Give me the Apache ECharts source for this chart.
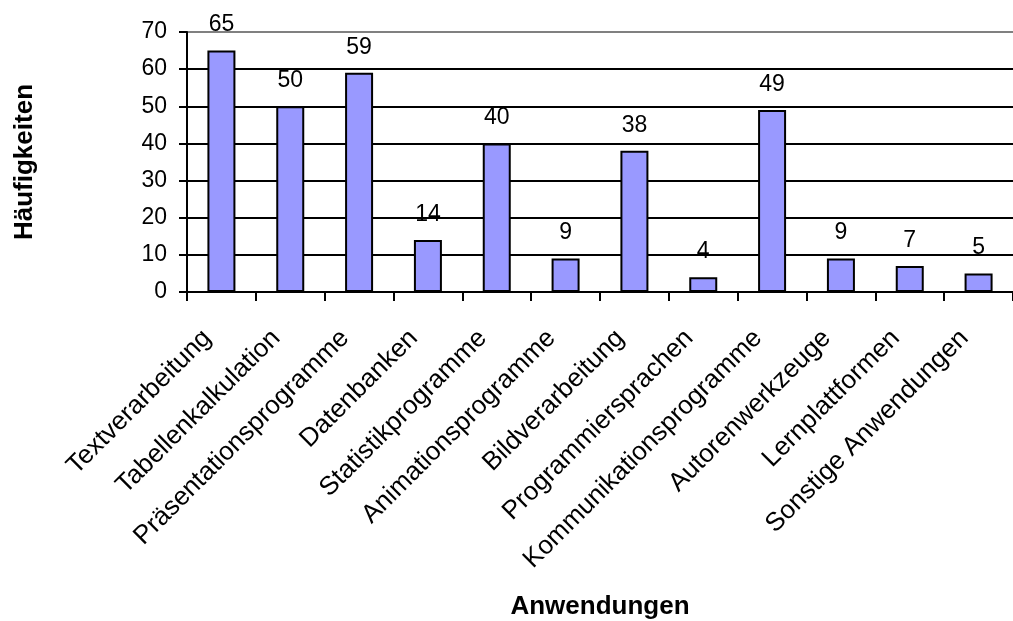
<!DOCTYPE html>
<html>
<head>
<meta charset="utf-8">
<script src="https://cdn.jsdelivr.net/npm/echarts@6/dist/echarts.min.js"></script>
<style>
  html, body { margin: 0; padding: 0; background: #fff; }
  #chart { width: 1013px; height: 621px; }
</style>
</head>
<body>
<div id="chart"></div>
<script>
// Usage frequency per application type
const categories = [
  'Textverarbeitung', 'Tabellenkalkulation', 'Präsentationsprogramme', 'Datenbanken',
  'Statistikprogramme', 'Animationsprogramme', 'Bildverarbeitung', 'Programmiersprachen',
  'Kommunikationsprogramme', 'Autorenwerkzeuge', 'Lernplattformen', 'Sonstige Anwendungen'
];
const counts = [65, 50, 59, 14, 40, 9, 38, 4, 49, 9, 7, 5];
const yTicks = [0, 10, 20, 30, 40, 50, 60, 70];

const FONT = '"Liberation Sans", Arial, Helvetica, sans-serif';

const chart = echarts.init(document.getElementById('chart'), null, { renderer: 'canvas' });

// top line of the value range is the grey plot frame, the others are black gridlines
const gridColors = yTicks.map((v, i) => (i === yTicks.length - 1 ? '#808080' : '#000000'));

chart.setOption({
  animation: false,
  backgroundColor: '#ffffff',
  grid: { left: 187, top: 32, width: 833, bottom: 327, containLabel: false },
  xAxis: {
    type: 'category',
    data: categories,
    boundaryGap: true,
    name: 'Anwendungen',
    nameLocation: 'middle',
    nameGap: 302,
    nameTextStyle: { fontFamily: FONT, fontSize: 26, fontWeight: 'bold', color: '#000' },
    axisLine: { show: true, lineStyle: { color: '#000', width: 2 } },
    axisTick: { show: true, length: 9, alignWithLabel: false, lineStyle: { color: '#000', width: 2 } },
    axisLabel: {
      interval: 0,
      rotate: 45,
      margin: 28,
      padding: [0, 20, 0, 0],
      fontFamily: FONT,
      fontSize: 26,
      color: '#000'
    },
    splitLine: { show: false }
  },
  yAxis: {
    type: 'value',
    min: 0,
    max: 70,
    interval: 10,
    name: 'Häufigkeiten',
    nameLocation: 'middle',
    nameGap: 149,
    nameRotate: 90,
    nameTextStyle: { fontFamily: FONT, fontSize: 26, fontWeight: 'bold', color: '#000' },
    axisLine: { show: true, lineStyle: { color: '#000', width: 2 } },
    axisTick: { show: true, length: 8, lineStyle: { color: '#000', width: 2 } },
    axisLabel: {
      margin: 20,
      fontFamily: FONT,
      fontSize: 23,
      color: '#000',
      formatter: v => (yTicks.includes(v) ? String(v) : '')
    },
    splitLine: { show: true, lineStyle: { color: gridColors, width: 2 } }
  },
  series: [{
    type: 'bar',
    data: counts,
    barWidth: 28,
    itemStyle: { color: '#9999ff', borderColor: '#000', borderWidth: 2 },
    label: {
      show: true,
      position: 'top',
      distance: 14,
      fontFamily: FONT,
      fontSize: 23,
      color: '#000'
    }
  }]
});
</script>
</body>
</html>
